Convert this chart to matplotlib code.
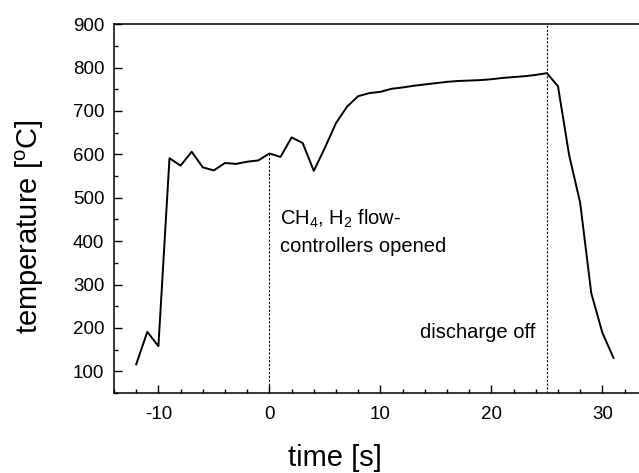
import matplotlib.pyplot as plt
from matplotlib.ticker import MultipleLocator

plt.rcParams['font.family'] = ['Liberation Sans', 'DejaVu Sans']
plt.rcParams['mathtext.fontset'] = 'custom'
plt.rcParams['mathtext.rm'] = 'Liberation Sans'
plt.rcParams['mathtext.it'] = 'Liberation Sans'
plt.rcParams['axes.unicode_minus'] = False

# time [s] and temperature [oC]
time = [-12, -11, -10, -9, -8, -7, -6, -5, -4, -3, -2, -1, 0, 1, 2, 3, 4, 5, 6, 7, 8, 9,
        10, 11, 12, 13, 14, 15, 16, 17, 18, 19, 20, 21, 22, 23, 24, 25, 26, 27, 28, 29, 30, 31]
temp = [116, 191, 158, 591, 574, 606, 570, 563, 580, 578, 583, 586, 602, 594, 639, 626, 562, 615,
        672, 710, 734, 741, 744, 751, 754, 758, 761, 764, 767, 769, 770, 771, 773, 776, 778, 780,
        783, 787, 757, 599, 488, 280, 189, 131]

t_open = 0
t_off = 25

fig = plt.figure(figsize=(6.39, 4.73), dpi=100)
ax = fig.add_axes([0.1784, 0.169, 0.8216, 0.780])

ax.plot(time, temp, color='black', linewidth=1.4)

# marker lines
ax.plot([t_open, t_open], [50, temp[time.index(t_open)]], color='black', linestyle=(0, (2, 1.5)), linewidth=0.8)
ax.axvline(t_off, color='black', linestyle=(0, (2, 1.5)), linewidth=0.8)

ax.text(1.0, 478, 'CH$_{\\mathregular{4}}$, H$_{\\mathregular{2}}$ flow-\ncontrollers opened', fontsize=14.5,
        va='top', ha='left', linespacing=1.5)
ax.text(24.0, 190, 'discharge off', fontsize=14.5, va='center', ha='right')

ax.set_xlim(-14, 33.3)
ax.set_ylim(50, 900)
ax.xaxis.set_major_locator(MultipleLocator(10))
ax.xaxis.set_minor_locator(MultipleLocator(2))
ax.yaxis.set_minor_locator(MultipleLocator(50))
ax.set_yticks(range(100, 901, 100))
ax.tick_params(which='both', direction='in', labelsize=13.5, top=False, right=False)
ax.tick_params(which='major', length=6, width=1)
ax.tick_params(which='minor', length=3, width=1)
ax.tick_params(axis='x', pad=9)
ax.tick_params(axis='y', pad=7)
ax.spines['right'].set_visible(False)
for s in ['left', 'bottom', 'top']:
    ax.spines[s].set_linewidth(1.1)

ax.set_xlabel('time [s]', fontsize=21)
ax.set_ylabel('temperature [$^{\\mathregular{o}}$C]', fontsize=21)
ax.xaxis.set_label_coords(0.42, -0.138)
ax.yaxis.set_label_coords(-0.13, 0.45)

fig.savefig('out.png', dpi=100)
